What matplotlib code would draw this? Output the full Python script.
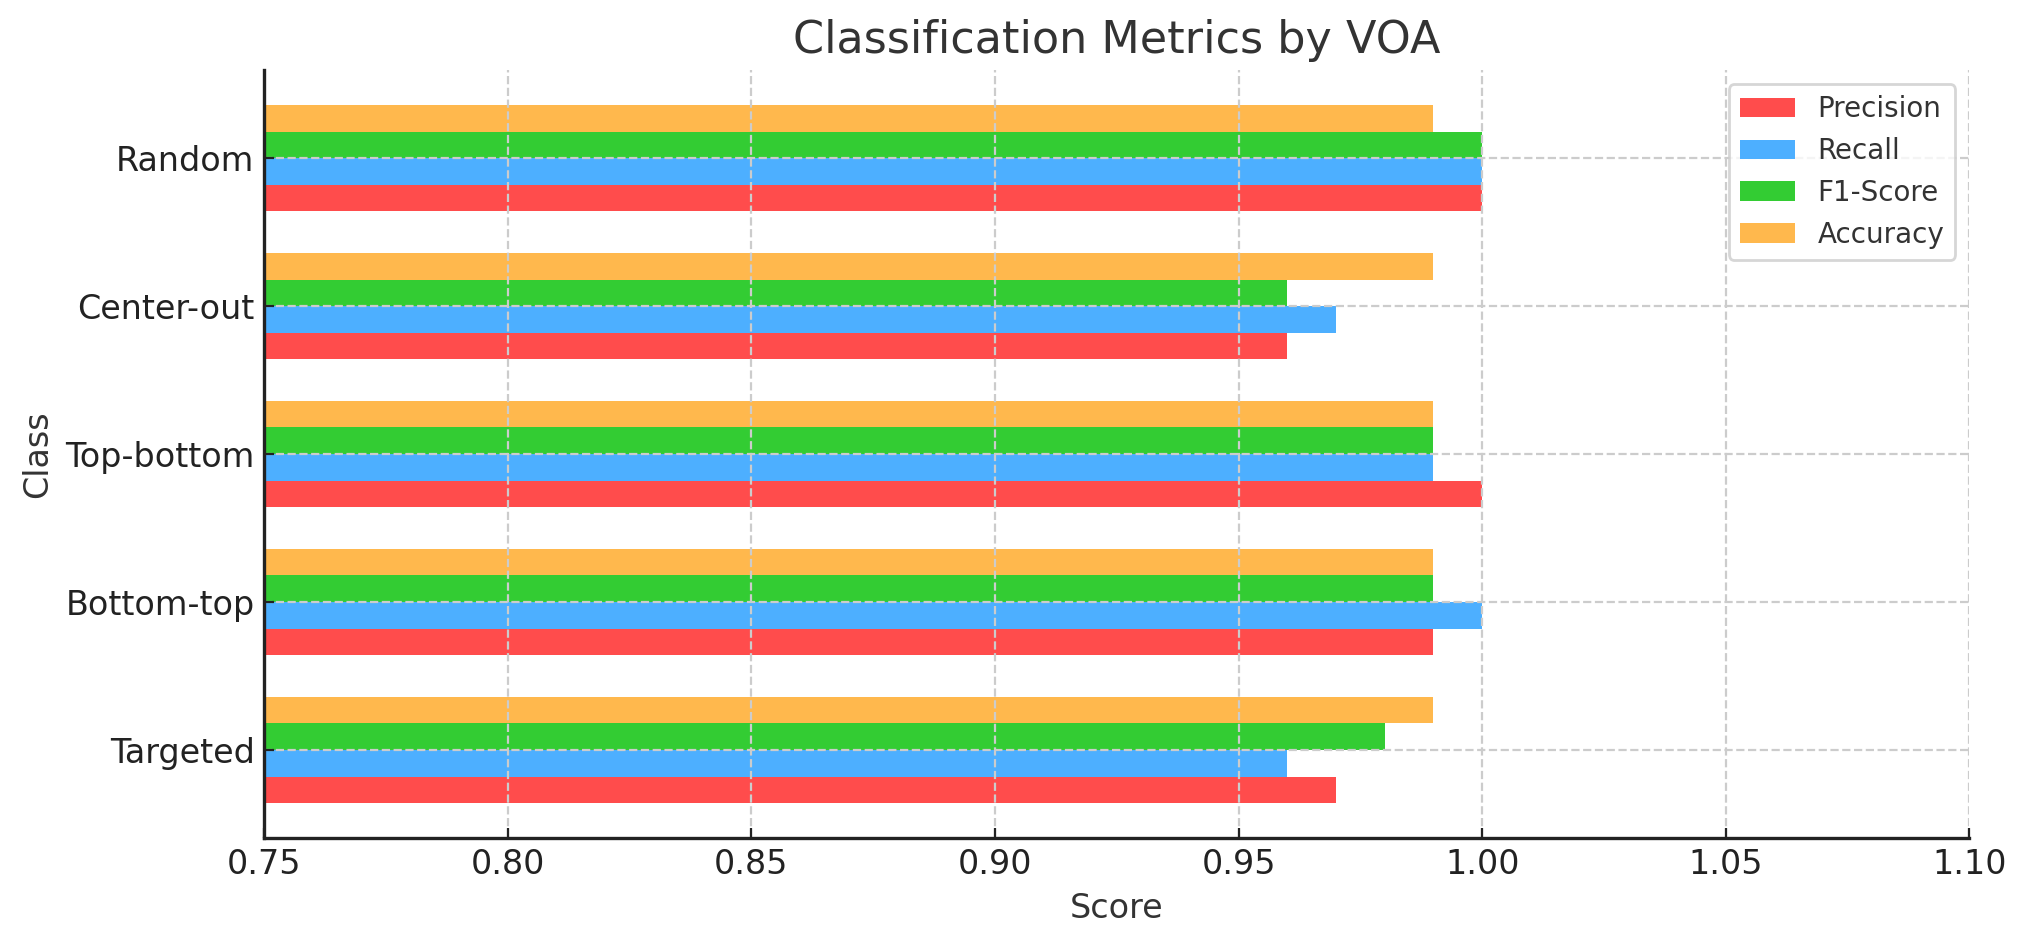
import numpy as np
import matplotlib
matplotlib.use("Agg")
import matplotlib.pyplot as plt

classes = ["Targeted", "Bottom-top", "Top-bottom", "Center-out", "Random"]
precision = [0.97, 0.99, 1.00, 0.96, 1.00]
recall = [0.96, 1.00, 0.99, 0.97, 1.00]
f1_score = [0.98, 0.99, 0.99, 0.96, 1.00]
accuracy = [0.99, 0.99, 0.99, 0.99, 0.99]
series_names = ["Precision", "Recall", "F1-Score", "Accuracy"]
colors = ["#FF4C4C", "#4DAFFF", "#33CC33", "#FFB84D"]

plt.rcParams['font.family'] = ['DejaVu Sans']
text_color = "#333333"

fig = plt.figure(figsize=(2025 / 200, 947 / 200), dpi=200)
ax = fig.add_axes([0.1305, 0.115, 0.9725 - 0.1305, 0.926 - 0.115])

y = np.arange(len(classes))
h = 0.18
data = [precision, recall, f1_score, accuracy]
for i, (vals, name, c) in enumerate(zip(data, series_names, colors)):
    ax.barh(y + (i - 1.5) * h, vals, height=h, color=c, label=name)

ax.set_xlim(0.75, 1.10)
ax.set_xticks(np.arange(0.75, 1.1001, 0.05))
ax.set_xticklabels([f"{v:.2f}" for v in np.arange(0.75, 1.1001, 0.05)])
ax.set_yticks(y)
ax.set_yticklabels(classes)

ax.set_title("Classification Metrics by VOA", fontsize=16, color=text_color)
ax.set_xlabel("Score", fontsize=12, color=text_color)
ax.set_ylabel("Class", fontsize=12, color=text_color)
ax.tick_params(axis='both', labelsize=12, direction='in', colors="#222222", labelcolor="#222222")

ax.grid(True, linestyle='--', color='#cccccc', linewidth=0.8)
ax.spines['top'].set_visible(False)
ax.spines['right'].set_visible(False)
for s in ['left', 'bottom']:
    ax.spines[s].set_color('#222222')
    ax.spines[s].set_linewidth(1.2)

leg = ax.legend(loc='upper right', fontsize=10, frameon=True)
leg.get_frame().set_edgecolor('#cccccc')
for t in leg.get_texts():
    t.set_color(text_color)

fig.savefig("out.png", dpi=200)
